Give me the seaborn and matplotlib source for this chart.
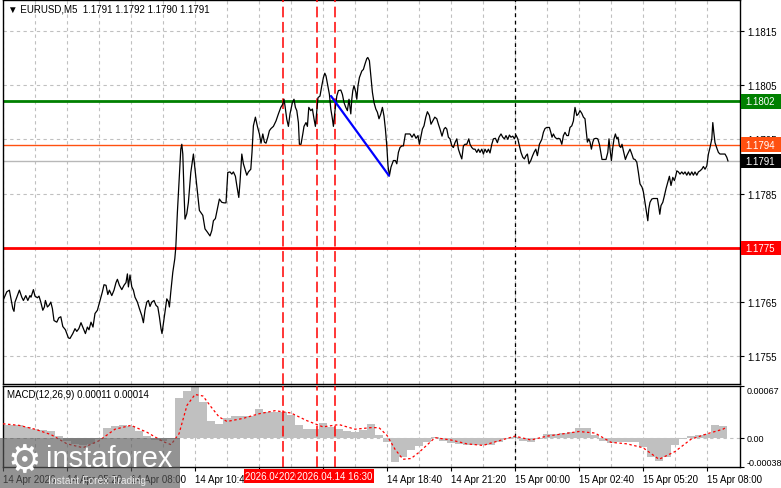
import matplotlib
matplotlib.use("Agg")
import numpy as np
import matplotlib.pyplot as plt
import matplotlib.transforms as mtransforms
from matplotlib.patches import Rectangle
import seaborn as sns

# ---- data (x = M5 bar number from the left edge) ----
price_bars = [0.0, 1.9, 3.2, 4.0, 4.9, 5.5, 6.0, 7.2, 8.2, 9.4, 10.2, 11.4, 12.4, 13.5, 14.0, 15.2, 16.0, 17.2, 18.0, 18.9,
              19.9, 20.7, 21.2, 22.2, 23.0, 23.9, 24.7, 25.5, 26.9, 27.9, 28.9, 29.9, 31.2, 32.7, 33.5, 34.9, 36.0, 36.9, 37.9, 39.0,
              40.2, 41.2, 42.2, 43.0, 44.0, 45.0, 46.0, 47.2, 48.5, 49.7, 50.5, 51.5, 52.4, 53.2, 54.4, 55.5, 56.5, 57.2, 58.2, 59.4,
              60.5, 61.5, 62.2, 62.7, 63.5, 64.4, 65.2, 66.0, 67.2, 68.2, 69.4, 70.2, 71.0, 71.9, 72.7, 73.5, 74.4, 75.5, 76.5, 77.4,
              78.2, 79.0, 79.5, 80.2, 81.0, 81.9, 82.7, 83.2, 83.9, 84.9, 85.9, 86.4, 87.2, 88.0, 88.9, 89.4, 89.9, 90.5, 91.0, 91.9,
              92.7, 93.9, 95.2, 96.0, 96.9, 98.2, 99.9, 101.0, 102.2, 103.5, 104.4, 105.2, 106.2, 107.2, 108.2, 109.4, 110.5, 111.5, 112.4, 113.5,
              114.4, 115.2, 116.2, 116.9, 117.9, 118.5, 119.4, 120.2, 121.0, 121.9, 122.7, 123.9, 124.5, 125.2, 126.2, 127.2, 128.2, 129.0, 129.9, 130.7,
              131.5, 132.4, 133.2, 134.0, 135.2, 136.5, 137.7, 138.9, 139.9, 140.5, 141.0, 141.9, 142.7, 143.5, 144.7, 145.5, 146.2, 146.9, 147.7, 148.2,
              149.0, 149.9, 150.5, 151.5, 152.2, 152.9, 153.9, 154.7, 155.5, 156.2, 156.9, 157.5, 158.5, 159.4, 160.2, 160.9, 161.5, 162.4, 163.2, 163.9,
              164.7, 165.2, 166.0, 166.9, 167.7, 168.9, 169.7, 170.5, 171.4, 172.2, 173.0, 173.9, 174.4, 174.9, 175.5, 176.4, 176.9, 177.5, 178.2, 179.4,
              180.2, 181.0, 181.9, 182.4, 183.2, 183.9, 184.7, 185.5, 186.4, 187.2, 188.0, 188.9, 189.7, 190.5, 191.2, 191.9, 192.5, 193.2, 194.0, 195.2,
              196.2, 196.9, 197.7, 198.5, 199.4, 200.2, 201.2, 202.2, 203.5, 204.5, 205.5, 206.5, 207.5, 208.2, 208.9, 209.7, 210.5, 211.4, 212.2, 213.2,
              214.0, 214.9, 215.9, 216.9, 217.7, 218.5, 219.5, 220.5, 221.2, 221.9, 222.7, 223.5, 224.4, 225.2, 226.0, 226.9, 227.7, 228.5, 229.4, 230.2,
              231.0, 231.9, 232.9, 233.5, 234.4, 235.2, 236.0, 236.9, 237.7, 238.5, 239.4, 240.2, 241.0, 241.9, 242.7, 243.5, 244.4, 245.2, 246.2, 247.2,
              248.0, 249.0, 249.9, 250.7, 251.5, 252.4, 253.2, 254.0, 254.9, 255.7, 256.5, 257.4, 258.2, 259.0, 259.9, 260.7, 261.5, 262.2, 263.0, 263.9,
              264.7, 265.5, 266.4, 267.2, 268.2, 269.4, 270.2, 271.0, 271.9, 273.2, 273.9, 274.5, 275.2, 276.0, 276.9, 277.7, 278.5, 279.4, 280.2, 281.0,
              281.9, 282.7, 283.5, 284.4, 285.2, 286.0, 286.9, 287.7, 288.5, 289.4, 290.2, 291.0, 291.5, 292.2, 292.9, 293.5, 294.2, 294.9, 295.5, 296.5,
              297.4, 298.2, 298.9, 299.5, 300.5, 301.5, 302.4, 303.0, 303.5, 304.2, 304.9, 305.5, 306.2, 306.9, 307.5, 308.2, 308.9, 309.5, 310.2, 311.2,
              311.9, 312.7, 313.5, 314.4, 315.2, 316.0, 316.9, 317.7, 318.5, 319.5, 320.2, 321.0, 321.9, 322.4, 322.9, 323.5, 324.4, 325.2, 326.5, 327.2,
              327.9, 328.4, 329.0, 329.9, 330.7, 331.5, 332.4, 333.2, 334.0, 334.9, 335.7, 336.4, 336.9, 337.7, 338.5, 339.4, 340.2, 341.0, 341.9, 342.7,
              343.5, 344.4, 345.2, 346.0, 346.9, 347.7, 348.5, 349.4, 350.2, 351.0, 351.9, 352.7, 353.5, 354.4, 354.9, 355.4, 356.0, 356.9, 357.7, 358.5,
              359.4, 360.2, 361.0, 361.9, 362.5]
price_vals = [1.17653, 1.17669, 1.17672, 1.17656, 1.17638, 1.17633, 1.17650, 1.17662, 1.17672, 1.17659, 1.17653, 1.17662, 1.17653, 1.17662, 1.17659, 1.17673, 1.17661, 1.17658, 1.17661, 1.17650,
              1.17635, 1.17641, 1.17653, 1.17641, 1.17644, 1.17650, 1.17638, 1.17616, 1.17613, 1.17621, 1.17623, 1.17605, 1.17599, 1.17584, 1.17583, 1.17592, 1.17601, 1.17596, 1.17601, 1.17612,
              1.17601, 1.17592, 1.17604, 1.17599, 1.17613, 1.17604, 1.17629, 1.17635, 1.17653, 1.17669, 1.17682, 1.17681, 1.17664, 1.17672, 1.17662, 1.17672, 1.17686, 1.17692, 1.17681, 1.17673,
              1.17681, 1.17686, 1.17702, 1.17678, 1.17700, 1.17678, 1.17672, 1.17659, 1.17650, 1.17638, 1.17625, 1.17612, 1.17635, 1.17650, 1.17653, 1.17642, 1.17650, 1.17653, 1.17644, 1.17641,
              1.17623, 1.17601, 1.17592, 1.17610, 1.17632, 1.17656, 1.17651, 1.17641, 1.17669, 1.17705, 1.17730, 1.17751, 1.17816, 1.17871, 1.17932, 1.17941, 1.17923, 1.17853, 1.17803, 1.17813,
              1.17834, 1.17889, 1.17923, 1.17895, 1.17865, 1.17819, 1.17810, 1.17785, 1.17779, 1.17772, 1.17782, 1.17800, 1.17804, 1.17822, 1.17840, 1.17834, 1.17833, 1.17833, 1.17889, 1.17890,
              1.17886, 1.17890, 1.17882, 1.17865, 1.17843, 1.17871, 1.17923, 1.17905, 1.17895, 1.17884, 1.17890, 1.17895, 1.17926, 1.17975, 1.17991, 1.17974, 1.17960, 1.17943, 1.17960, 1.17945,
              1.17943, 1.17954, 1.17966, 1.17970, 1.17974, 1.17984, 1.17997, 1.18009, 1.18015, 1.18024, 1.18012, 1.17987, 1.17974, 1.17997, 1.18018, 1.18024, 1.18009, 1.18003, 1.17981, 1.17941,
              1.17941, 1.17960, 1.17974, 1.17981, 1.17974, 1.18009, 1.18003, 1.18006, 1.17988, 1.17974, 1.18003, 1.18027, 1.18030, 1.18049, 1.18064, 1.18072, 1.18067, 1.18049, 1.18033, 1.18006,
              1.17988, 1.17974, 1.18003, 1.18030, 1.18040, 1.18041, 1.18033, 1.18018, 1.18009, 1.18003, 1.18024, 1.17997, 1.18024, 1.18040, 1.18049, 1.18037, 1.18024, 1.18049, 1.18064, 1.18076,
              1.18079, 1.18089, 1.18099, 1.18101, 1.18095, 1.18067, 1.18037, 1.18018, 1.18006, 1.18000, 1.17988, 1.17997, 1.18009, 1.17993, 1.17969, 1.17938, 1.17901, 1.17883, 1.17899, 1.17911,
              1.17911, 1.17905, 1.17926, 1.17935, 1.17938, 1.17938, 1.17960, 1.17960, 1.17960, 1.17954, 1.17960, 1.17952, 1.17957, 1.17941, 1.17954, 1.17969, 1.17975, 1.17991, 1.18001, 1.17994,
              1.17978, 1.17984, 1.17991, 1.17988, 1.17978, 1.17969, 1.17956, 1.17969, 1.17972, 1.17969, 1.17954, 1.17951, 1.17938, 1.17935, 1.17944, 1.17951, 1.17932, 1.17923, 1.17914, 1.17938,
              1.17941, 1.17941, 1.17951, 1.17941, 1.17935, 1.17932, 1.17932, 1.17926, 1.17932, 1.17926, 1.17932, 1.17923, 1.17932, 1.17926, 1.17932, 1.17925, 1.17941, 1.17951, 1.17952, 1.17944,
              1.17954, 1.17960, 1.17954, 1.17951, 1.17957, 1.17950, 1.17958, 1.17954, 1.17956, 1.17951, 1.17958, 1.17951, 1.17938, 1.17926, 1.17917, 1.17914, 1.17920, 1.17923, 1.17905, 1.17911,
              1.17919, 1.17926, 1.17932, 1.17920, 1.17941, 1.17950, 1.17963, 1.17970, 1.17972, 1.17972, 1.17963, 1.17954, 1.17960, 1.17954, 1.17951, 1.17952, 1.17951, 1.17941, 1.17957, 1.17963,
              1.17957, 1.17957, 1.17972, 1.17975, 1.17984, 1.18009, 1.17994, 1.17997, 1.18003, 1.17998, 1.17991, 1.17988, 1.17969, 1.17945, 1.17951, 1.17945, 1.17932, 1.17945, 1.17951, 1.17952,
              1.17951, 1.17941, 1.17926, 1.17913, 1.17913, 1.17913, 1.17926, 1.17951, 1.17932, 1.17911, 1.17935, 1.17951, 1.17960, 1.17951, 1.17954, 1.17938, 1.17935, 1.17941, 1.17929, 1.17913,
              1.17920, 1.17926, 1.17932, 1.17923, 1.17914, 1.17913, 1.17908, 1.17889, 1.17868, 1.17862, 1.17853, 1.17834, 1.17813, 1.17800, 1.17822, 1.17834, 1.17840, 1.17841, 1.17841, 1.17841,
              1.17825, 1.17812, 1.17828, 1.17834, 1.17846, 1.17859, 1.17871, 1.17882, 1.17865, 1.17880, 1.17874, 1.17883, 1.17892, 1.17890, 1.17886, 1.17890, 1.17886, 1.17890, 1.17884, 1.17890,
              1.17884, 1.17890, 1.17884, 1.17890, 1.17884, 1.17890, 1.17892, 1.17895, 1.17900, 1.17895, 1.17901, 1.17923, 1.17935, 1.17951, 1.17981, 1.17963, 1.17944, 1.17934, 1.17926, 1.17923,
              1.17923, 1.17923, 1.17923, 1.17917, 1.17910]

# MACD histogram, one reading every 4 bars from bar 0
macd_hist = [0.00017, 0.00017, 0.00016, 0.00014, 0.00011, 0.00010, 0.00009, 0.00002, -0.00004, -0.00008,
             -0.00010, -0.00008, -0.00002, 0.00012, 0.00015, 0.00016, 0.00015, 0.00009, 0.00002, -0.00003,
             -0.00004, -0.00002, 0.00052, 0.00061, 0.00066, 0.00046, 0.00022, 0.00018, 0.00026, 0.00028,
             0.00028, 0.00028, 0.00037, 0.00033, 0.00033, 0.00033, 0.00029, 0.00016, 0.00011, 0.00011,
             0.00019, 0.00014, 0.00011, 0.00009, 0.00007, 0.00010, 0.00018, 0.00003, -0.00006, -0.00031,
             -0.00025, -0.00016, -0.00011, -0.00005, 0.00001, -0.00004, -0.00007, -0.00008, -0.00009, -0.00010,
             -0.00010, -0.00009, -0.00006, -0.00002, 0.00001, -0.00004, -0.00005, -0.00002, 0.00005, 0.00005,
             0.00006, 0.00008, 0.00013, 0.00012, 0.00004, -0.00004, -0.00007, -0.00006, -0.00005, -0.00005,
             -0.00012, -0.00025, -0.00030, -0.00025, -0.00010, -0.00002, 0.00002, 0.00003, 0.00005, 0.00016,
             0.00015]
signal_bars = [0, 8, 16, 24, 32, 40, 48, 56, 64, 72, 80, 84, 88, 92, 96, 100, 104, 108, 112, 120,
               128, 136, 144, 152, 160, 168, 176, 184, 188, 192, 196, 200, 204, 208, 216, 224, 232, 240, 248, 256,
               264, 272, 280, 288, 296, 304, 312, 320, 328, 336, 344, 352, 360, 362]
signal_vals = [0.00018, 0.00016, 0.00011, 0.00004, -0.00008, -0.00013, -0.00004, 0.00011, 0.00016, 0.00007,
               -0.00005, -0.00009, 0.00005, 0.00042, 0.00056, 0.00054, 0.00040, 0.00027, 0.00021, 0.00025,
               0.00031, 0.00035, 0.00032, 0.00022, 0.00014, 0.00017, 0.00011, 0.00013, 0.00013, 0.00003,
               -0.00015, -0.00028, -0.00027, -0.00019, 0.00000, -0.00003, -0.00008, -0.00010, -0.00004, 0.00002,
               -0.00003, 0.00002, 0.00005, 0.00008, 0.00006, -0.00006, -0.00008, -0.00013, -0.00028, -0.00018,
               -0.00002, 0.00005, 0.00011, 0.00014]

# labels under the red marker boxes are hidden in the original, so left blank
time_labels = ["14 Apr 2026", "14 Apr 05:20", "14 Apr 08:00", "14 Apr 10:40", "", "",
               "14 Apr 18:40", "14 Apr 21:20", "15 Apr 00:00", "15 Apr 02:40", "15 Apr 05:20", "15 Apr 08:00"]
price_ticks = [1.1755, 1.1765, 1.1775, 1.1785, 1.1795, 1.1805, 1.1815]
price_tick_labels = ["1.1755", "1.1765", "", "1.1785", "1.1795", "1.1805", "1.1815"]
marker_bars = [140, 157, 166]
marker_labels = ["2026.04.14 14:20", "2026.04.14 15:45", "2026.04.14 16:30"]
trend_bars = [164, 193]
trend_vals = [1.18030, 1.17883]
levels = {"1.1802": (1.1802, "#008000"), "1.1794": (1.1794, "#ff5010"),
          "1.1791": (1.1791, "#000000"), "1.1775": (1.1775, "#ff0000")}
day_break = 256

sns.set_theme(style="white")
plt.rcParams['font.family'] = ['Liberation Sans', 'DejaVu Sans']

W, H = 781, 489
fs = 7
fig = plt.figure(figsize=(W / 100, H / 100), dpi=100)
ax = fig.add_axes([3 / W, 1 - 385 / H, 737 / W, 384 / H])
ax2 = fig.add_axes([3 / W, 1 - 468 / H, 737 / W, 81 / H])

grid_kw = dict(color="#c0c0c0", linestyle=(0, (3, 3)), linewidth=0.8)
for a in (ax, ax2):
    a.set_facecolor("white")
    a.set_xlim(0, 368.5)
    a.set_xticks(np.arange(0, 368, 32))
    a.set_xticks(np.arange(16, 368, 32), minor=True)
    a.grid(True, which="both", axis="x", **grid_kw)
    for s in a.spines.values():
        s.set_color("black")
        s.set_linewidth(1)
    a.axvline(day_break, color="black", linestyle=(0, (3, 3)), linewidth=0.9, zorder=2)
    for b in marker_bars:
        a.axvline(b, color="red", linestyle=(0, (7, 3)), linewidth=1.1, zorder=3)
    a.yaxis.tick_right()
    a.tick_params(axis="y", which="both", right=True, left=False, length=3, width=0.8,
                  labelsize=fs, pad=2, colors="black")
    a.tick_params(axis="x", which="minor", length=0)

# ---- price panel ----
ax.set_ylim(1.17499, 1.18207)
ax.set_yticks(price_ticks)
ax.set_yticklabels(price_tick_labels)
ax.grid(True, axis="y", **grid_kw)
ax.tick_params(axis="x", which="both", length=0, labelbottom=False)

ax.axhline(levels["1.1791"][0], color="#b8b8b8", linewidth=1, zorder=2)
ax.axhline(levels["1.1794"][0], color=levels["1.1794"][1], linewidth=1, zorder=2)
ax.axhline(levels["1.1802"][0], color=levels["1.1802"][1], linewidth=2, zorder=2)
ax.axhline(levels["1.1775"][0], color=levels["1.1775"][1], linewidth=2, zorder=2)

sns.lineplot(x=price_bars, y=price_vals, ax=ax, color="black", linewidth=0.9,
             estimator=None, sort=False, zorder=4)
sns.lineplot(x=trend_bars, y=trend_vals, ax=ax, color="#0000ff", linewidth=1.6,
             estimator=None, sort=False, zorder=5)

# price label boxes on the right scale
tr = mtransforms.blended_transform_factory(fig.transFigure, ax.transData)
box_h = 0.00027
for txt, (val, col) in levels.items():
    fig.add_artist(Rectangle((741 / W, val - box_h / 2), 40 / W, box_h, transform=tr,
                             facecolor=col, edgecolor="none", zorder=10))
    fig.text(745 / W, val, txt, transform=tr, color="white", fontsize=fs,
             va="center", ha="left", zorder=11)

fig.text(8 / W, 1 - 10 / H, "\u25bc EURUSD,M5  1.1791 1.1792 1.1790 1.1791",
         fontsize=fs, va="center", ha="left", color="black")

# ---- MACD panel ----
ax2.set_ylim(-0.00038, 0.00067)
hist_bars = np.arange(0, 4 * len(macd_hist), 4)
ax2.bar(hist_bars, macd_hist, width=4, color="#c0c0c0", linewidth=0, zorder=1)
ax2.axhline(0, **grid_kw, zorder=1.5)
sns.lineplot(x=signal_bars, y=signal_vals, ax=ax2, color="red", linewidth=0.9,
             linestyle=(0, (2, 2)), estimator=None, sort=False, zorder=4)
ax2.set_yticks([-0.00038, 0, 0.00067])
ax2.set_yticklabels(["-0.00038", "0.00", "0.00067"])
ax2.tick_params(axis="y", labelsize=6.5, pad=1.5)
ylabs = ax2.get_yticklabels()
ylabs[0].set_verticalalignment("bottom")
ylabs[2].set_verticalalignment("top")
ax2.set_xticklabels(time_labels)
for lbl in ax2.get_xticklabels():
    lbl.set_horizontalalignment("left")
ax2.tick_params(axis="x", which="major", bottom=True, length=3, width=0.8,
                labelsize=fs, pad=2, colors="black")
ax2.text(4 / 737, 0.9, "MACD(12,26,9) 0.00011 0.00014", transform=ax2.transAxes,
         fontsize=fs, va="center", ha="left", color="black")
for a in (ax, ax2):
    a.set_xlabel("")
    a.set_ylabel("")

# red time labels of the vertical markers, each box drawn over the previous one
trb = mtransforms.blended_transform_factory(ax2.transData, fig.transFigure)
for i, (b, txt) in enumerate(zip(marker_bars, marker_labels)):
    fig.add_artist(Rectangle((b - 19.5, 5 / H), 39, 14 / H, transform=trb,
                             facecolor="red", edgecolor="none", zorder=10 + 2 * i))
    fig.text(b, 12 / H, txt, transform=trb, color="white", fontsize=fs,
             va="center", ha="center", zorder=11 + 2 * i)

# watermark
fig.add_artist(Rectangle((0, 0), 180 / W, 50 / H, transform=fig.transFigure,
                         facecolor="#5a5a5a", alpha=0.65, edgecolor="none", zorder=20))
fig.text(24 / W, 1 - 462 / H, "\u2699", fontsize=27, color="white", ha="center",
         va="center", family=["DejaVu Sans"], zorder=21)
fig.text(46 / W, 1 - 459 / H, "instaforex", fontsize=21, color="white", ha="left",
         va="center", zorder=21)
fig.text(48 / W, 1 - 481 / H, "Instant Forex Trading", fontsize=7.5, color="#e8e8e8",
         ha="left", va="center", zorder=21)

fig.savefig("out.png", dpi=100)
